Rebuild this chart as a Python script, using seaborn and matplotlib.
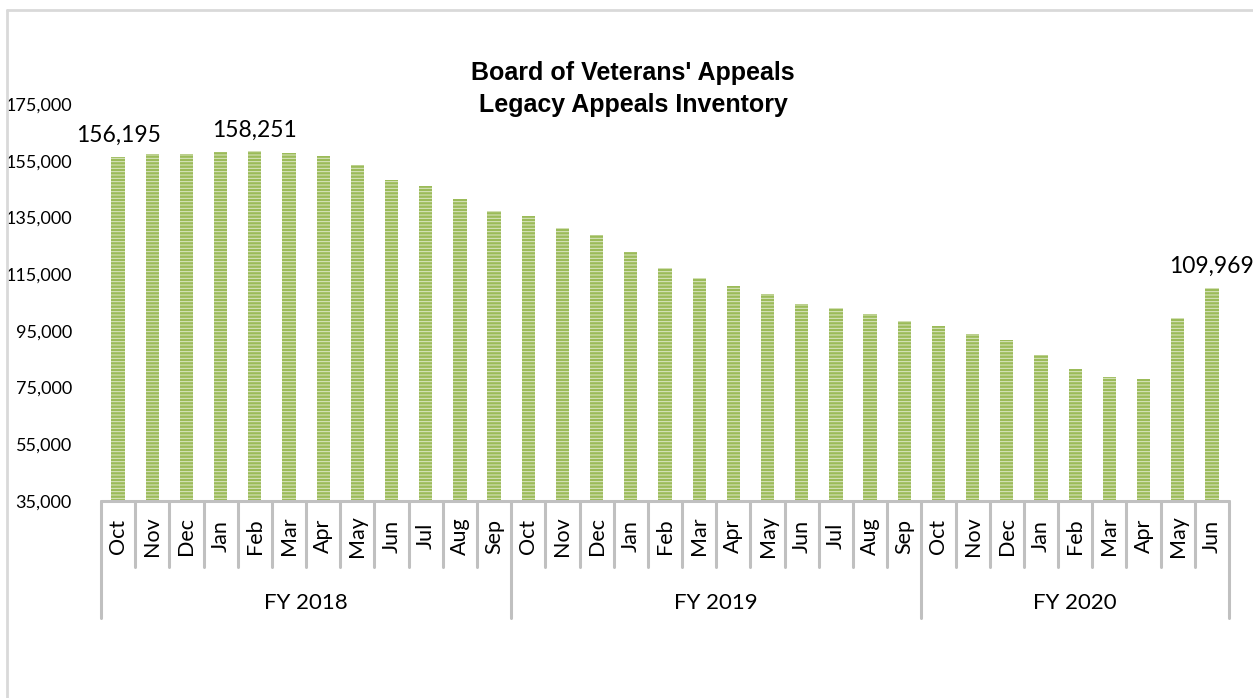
import pandas as pd
import matplotlib.pyplot as plt
import seaborn as sns
from matplotlib.lines import Line2D
from matplotlib.transforms import blended_transform_factory

sns.set_theme(style='white')
plt.rcParams['font.family'] = ['Lato', 'DejaVu Sans']
plt.rcParams['hatch.linewidth'] = 0.7
plt.rcParams['text.color'] = 'black'
plt.rcParams['ytick.color'] = 'black'
plt.rcParams['xtick.color'] = 'black'

# data
fy_months = ['Oct', 'Nov', 'Dec', 'Jan', 'Feb', 'Mar', 'Apr', 'May', 'Jun', 'Jul', 'Aug', 'Sep']
fiscal_years = ['FY 2018', 'FY 2019', 'FY 2020']
inventory_2018 = [156195, 157500, 157500, 158100, 158251, 157700, 156700, 153600, 148300, 146000, 141600, 137100]
inventory_2019 = [135400, 131300, 128900, 122900, 117200, 113700, 110900, 108000, 104600, 102900, 100800, 98300]
inventory_2020 = [96800, 93900, 91800, 86500, 81500, 78900, 78000, 99400, 109969]
y_ticks = [35000, 55000, 75000, 95000, 115000, 135000, 155000, 175000]
labelled = [('FY 2018', 'Oct'), ('FY 2018', 'Feb'), ('FY 2020', 'Jun')]

rows = []
for fy, vals in zip(fiscal_years, [inventory_2018, inventory_2019, inventory_2020]):
    for m, v in zip(fy_months, vals):
        rows.append({'fy': fy, 'month': m, 'value': v})
df = pd.DataFrame(rows)
df['key'] = df['fy'] + ' ' + df['month']
n = len(df)

W, H = 1253, 698
fig = plt.figure(figsize=(W / 100, H / 100), dpi=100)
ax = fig.add_axes([101 / W, 1 - 501 / H, (1229 - 101) / W, (501 - 104) / H])

sns.barplot(data=df, x='key', y='value', color='#9bbb59', saturation=1, width=0.39,
            edgecolor='#dde8c6', linewidth=0, hatch='-----', ax=ax)

ax.set_ylim(35000, 175000)
ax.set_xlim(-0.5, n - 0.5)
ax.set_yticks(y_ticks)
ax.set_yticklabels([f'{t:,}' for t in y_ticks], fontsize=13)
ax.tick_params(axis='y', length=0, pad=21)
ax.set_xticks([])
ax.set_xlabel('')
ax.set_ylabel('')
for s in ax.spines.values():
    s.set_visible(False)

def py(px):
    return 1 - px / H

trans = blended_transform_factory(ax.transData, fig.transFigure)
grey = '#c0c0c0'

# multi-level category axis
fig.add_artist(Line2D([-0.5, n - 0.5], [py(501), py(501)], color=grey, lw=2.2, transform=trans))
fy_starts = df.index[df['month'] == 'Oct'].tolist()
for i in range(n + 1):
    bottom = 618 if (i in fy_starts or i == n) else 567
    fig.add_artist(Line2D([i - 0.5, i - 0.5], [py(501), py(bottom)], color=grey, lw=2.2, transform=trans))

for i, m in enumerate(df['month']):
    ax.text(i, py(536), m, rotation=90, ha='center', va='center', fontsize=15.5, transform=trans)

for fy in fiscal_years:
    idx = df.index[df['fy'] == fy]
    ax.text((idx.min() + idx.max()) / 2, py(603), fy, ha='center', va='center', fontsize=16, transform=trans)

# value labels
for fy, m in labelled:
    i = df.index[(df['fy'] == fy) & (df['month'] == m)][0]
    v = df.loc[i, 'value']
    ax.annotate(f'{v:,}', (i, v), xytext=(0, 8), textcoords='offset points',
                ha='center', va='bottom', fontsize=16.5)

fig.text(633 / W, py(73), "Board of Veterans' Appeals", ha='center', va='center',
         fontsize=18, fontweight='bold', family=['Liberation Sans', 'DejaVu Sans'])
fig.text(633 / W, py(105), 'Legacy Appeals Inventory', ha='center', va='center',
         fontsize=18, fontweight='bold', family=['Liberation Sans', 'DejaVu Sans'])

# chart border
fig.add_artist(Line2D([7 / W, 7 / W], [0, py(10)], color='#d9d9d9', lw=2, transform=fig.transFigure))
fig.add_artist(Line2D([7 / W, 1], [py(10), py(10)], color='#d9d9d9', lw=2, transform=fig.transFigure))

fig.savefig('out.png', dpi=100)
